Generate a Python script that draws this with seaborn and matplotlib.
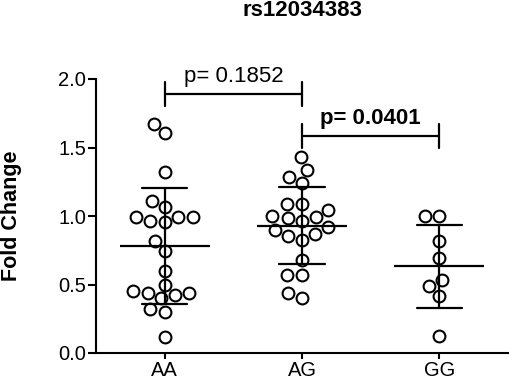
import matplotlib
matplotlib.use("Agg")
import matplotlib.pyplot as plt
import seaborn as sns
import pandas as pd
import numpy as np

title = "rs12034383"
ylabel = "Fold Change"
groups = ["AA", "AG", "GG"]

aa_values = [1.675, 1.605, 1.32, 1.113, 1.069, 0.996, 0.967, 0.955, 0.991, 0.996,
             0.817, 0.744, 0.599, 0.451, 0.422, 0.441, 0.441, 0.495, 0.398, 0.318,
             0.30, 0.119]
ag_values = [1.428, 1.336, 1.287, 1.241, 1.089, 1.089, 1.047, 0.984, 0.999, 0.96,
             0.991, 0.919, 0.90, 0.871, 0.827, 0.851, 0.676, 0.572, 0.567, 0.405,
             0.439]
gg_values = [0.999, 0.999, 0.817, 0.696, 0.487, 0.531, 0.417, 0.124]

yticks = [0.0, 0.5, 1.0, 1.5, 2.0]

comparisons = [("AA", "AG", 1.89, "p= 0.1852", "normal"),
               ("AG", "GG", 1.585, "p= 0.0401", "bold")]

df = pd.DataFrame({
    "group": ["AA"] * len(aa_values) + ["AG"] * len(ag_values) + ["GG"] * len(gg_values),
    "value": aa_values + ag_values + gg_values,
})

sns.set_style("ticks")
plt.rcParams["font.family"] = ["Liberation Sans", "DejaVu Sans"]
plt.rcParams["text.color"] = "black"
plt.rcParams["axes.labelcolor"] = "black"
plt.rcParams["xtick.color"] = "black"
plt.rcParams["ytick.color"] = "black"

fig = plt.figure(figsize=(5.10, 3.83), dpi=100)
ax = fig.add_axes([96 / 510, 1 - 353 / 383, (508 - 96) / 510, (353 - 79) / 383])

sns.swarmplot(data=df, x="group", y="value", order=groups, ax=ax,
              color="white", edgecolor="black", linewidth=1.5, size=8.5, zorder=1)
sns.pointplot(data=df, x="group", y="value", order=groups, ax=ax,
              errorbar="sd", capsize=0.33, color="black",
              markers="_", linestyles="none", markersize=65, markeredgewidth=1.6,
              err_kws={"linewidth": 1.6})

ax.set_xlim(-0.5, 2.5)
ax.set_ylim(0, 2.0)
ax.set_yticks(yticks)
ax.set_yticklabels([f"{v:.1f}" for v in yticks])
ax.set_xlabel("")
ax.set_ylabel(ylabel, fontsize=15.5, fontweight="bold", labelpad=26, color="black")
for s in ["top", "right"]:
    ax.spines[s].set_visible(False)
for s in ["left", "bottom"]:
    ax.spines[s].set_linewidth(1.5)
    ax.spines[s].set_color("black")
ax.tick_params(axis="y", length=6, width=1.5, labelsize=14.5, pad=1, colors="black")
ax.tick_params(axis="x", length=4, width=1.5, labelsize=14.5, pad=2, colors="black")

fig.text(302 / 510, 1 - 11 / 383, title, ha="center", va="center",
         fontsize=16, fontweight="bold", color="black")

pos = {g: i for i, g in enumerate(groups)}
for g1, g2, yv, label, weight in comparisons:
    x1, x2 = pos[g1], pos[g2]
    ax.plot([x1, x2], [yv, yv], color="black", lw=1.6, clip_on=False)
    for xx in (x1, x2):
        ax.plot([xx, xx], [yv - 0.087, yv + 0.087], color="black", lw=1.6, clip_on=False)
    ax.text((x1 + x2) / 2, yv + 0.088, label, ha="center", va="baseline",
            fontsize=16, fontweight=weight, color="black", clip_on=False)

fig.savefig("out.png", dpi=100)
